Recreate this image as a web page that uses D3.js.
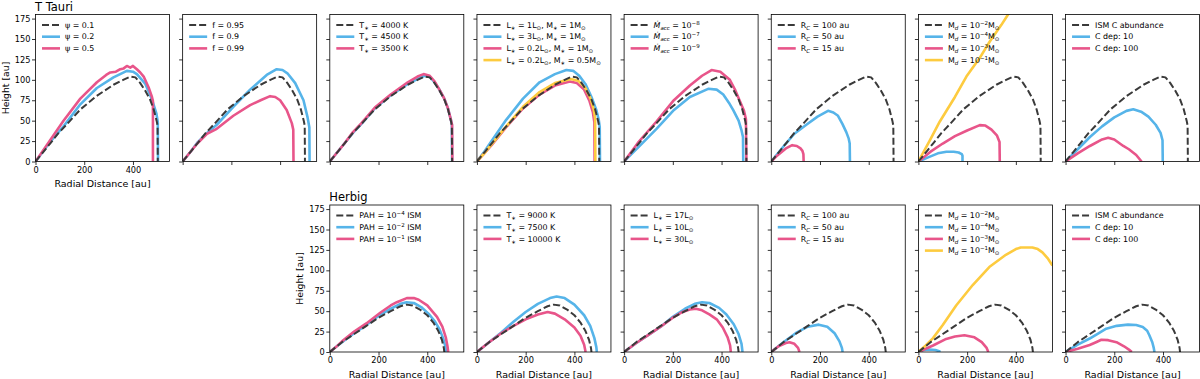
<!DOCTYPE html>
<html>
<head>
<meta charset="utf-8">
<script src="https://cdn.jsdelivr.net/npm/d3@7"></script>
<style>
  body { margin: 0; background: #fff; }
  svg { display: block; font-family: "DejaVu Sans", sans-serif; }
</style>
</head>
<body>
<div id="chart"></div>
<script>
// axis ticks / limits
const xTicks = [0, 200, 400];
const yTicks = [0, 25, 50, 75, 100, 125, 150, 175];
const xMax = 550, yMax = 180;

// ---- T Tauri models, [radius au, height au] ----
const tTauriRef = [[0,0],[30,11],[60,22],[95,35],[130,46],[185,64],[250,80],[320,94],[360,100],[389,104],[410,103],[430,96],[450,87],[470,76],[485,64],[497,50],[501,44],[502,0]];
const psi02 = [[0,0],[30,12],[60,24],[115,43],[184,70],[252,90],[320,103],[375,111],[400,110],[416,107],[451,95],[478,76],[496,59],[502,48],[503,0]];
const psi05 = [[0,0],[30,13],[60,26],[115,50],[184,77],[252,97],[290,106],[307,109],[330,110],[348,113],[362,114],[375,117],[389,115],[400,117],[416,113],[430,109],[444,104],[464,91],[478,79],[482,74],[482,0]];
const f090 = [[0,0],[30,11],[60,23],[100,35],[140,45],[208,67],[277,88],[345,106],[386,113],[410,112],[430,108],[462,96],[496,75],[512,55],[520,42],[521,0]];
const f099 = [[0,0],[30,11],[60,22],[100,34],[140,40],[208,56],[277,69],[320,75],[359,80],[380,79],[400,75],[427,63],[448,47],[454,39],[455,0]];
const tStar4500 = [[0,0],[30,11],[60,22],[95,35],[130,46],[185,65],[250,81],[320,95],[360,101],[389,105],[410,104],[430,97],[450,88],[470,77],[485,65],[497,51],[501,45],[502,0]];
const tStar3500 = [[0,0],[30,11],[60,22],[95,36],[130,47],[185,66],[250,82],[320,97],[360,104],[385,107],[410,105],[430,98],[450,88],[470,77],[485,65],[497,51],[502,45],[503,0]];
const lStar3 = [[0,0],[30,12],[60,25],[120,51],[189,77],[257,97],[320,107],[367,112],[395,111],[420,105],[445,95],[470,79],[490,63],[500,51],[504,42],[505,0]];
const lStar02 = [[0,0],[30,10],[60,20],[120,42],[189,65],[257,82],[320,93],[381,98],[410,96],[440,88],[462,74],[476,60],[482,48],[483,0]];
const lStar02m05 = [[0,0],[30,10],[60,21],[120,43],[189,67],[257,85],[320,96],[385,101],[415,99],[445,90],[466,77],[480,63],[485,52],[486,0]];
const mAcc7 = [[0,0],[30,9],[60,18],[133,40],[201,62],[270,79],[345,89],[380,88],[407,82],[430,72],[448,63],[470,50],[482,38],[488,30],[489,0]];
const mAcc9 = [[0,0],[30,12],[60,24],[133,49],[201,74],[270,93],[320,105],[359,112],[395,110],[434,100],[455,88],[475,74],[492,62],[500,52],[502,0]];
const rc50 = [[0,0],[30,11],[60,22],[95,34],[144,45],[190,55],[233,62],[255,60],[274,56],[292,46],[308,36],[318,28],[322,22],[323,0]];
const rc15 = [[0,0],[20,6],[40,11],[60,16],[86,20],[105,19],[120,16],[128,13],[132,9],[133,0]];
const md4 = [[0,0],[40,5],[80,10],[115,12],[145,12],[165,11],[178,9],[181,7],[181,0]];
const md3 = [[0,0],[50,12],[100,22],[150,31],[200,38],[252,44.5],[275,44],[300,39],[322,32],[333,24],[334,0]];
const md1 = [[0,0],[47,26],[88,49],[150,79],[197,104],[250,126],[293,147],[340,167],[368,180],[400,194]];
const cDep10 = [[0,0],[50,15],[100,30],[150,43],[200,54],[250,62],[278,64],[310,61],[340,55],[370,45],[390,35],[398,26],[399,0]];
const cDep100 = [[0,0],[50,10],[100,19],[150,27],[175,29],[200,27],[237,19],[260,15],[290,8],[312,0]];

// ---- Herbig models ----
const herbigRef = [[0,0],[25,6],[50,12],[100,22],[150,32],[200,42],[250,50],[290,56],[315,58],[340,57],[370,52],[400,45],[425,36],[445,26],[460,15],[468,5],[470,0]];
const pah2 = [[0,0],[25,6],[50,12],[100,23],[150,33],[200,44],[250,53],[290,59],[315,61],[345,60],[375,55],[405,47],[430,38],[450,28],[465,17],[474,7],[477,0]];
const pah1 = [[0,0],[25,6],[50,13],[100,25],[150,35],[207,48],[250,57],[275,61],[316,66],[345,66],[365,64],[400,57],[440,43],[462,31],[476,18],[483,7],[486,0]];
const hT7500 = [[0,0],[50,12],[100,24],[150,37],[200,49],[250,59],[300,66],[327,68],[360,66],[400,58],[440,45],[465,32],[482,17],[490,6],[492,0]];
const hT10000 = [[0,0],[50,12],[100,23],[150,32],[200,40],[250,46],[290,49],[320,47],[360,40],[400,30],[425,20],[440,9],[446,0]];
const hL10 = [[0,0],[50,11],[100,21],[150,31],[200,43],[250,53],[290,59],[320,61],[350,60],[390,54],[420,46],[450,34],[470,22],[482,10],[486,0]];
const hL30 = [[0,0],[50,11],[100,21],[150,31],[200,42],[240,49],[270,52],[295,53],[320,51],[350,46],[380,40],[405,30],[425,18],[435,8],[438,0]];
const hRc50 = [[0,0],[50,12],[100,23],[150,31],[195,33.5],[230,31],[260,23],[280,13],[290,5],[293,0]];
const hRc15 = [[0,0],[30,7],[60,11],[75,12],[95,10],[110,5],[116,0]];
const hMd4 = [[0,0],[20,2.5],[46,3],[70,2.5],[85,1],[90,0]];
const hMd3 = [[0,0],[60,8],[114,16],[150,19],[189,20.5],[230,18],[260,12],[280,5],[287,0]];
const hMd1 = [[0,0],[30,8],[60,17],[100,33],[155,57],[223,82],[291,104],[359,119],[400,126],[420,128],[468,128],[490,126],[509,122],[530,115],[550,106]];
const hDep10 = [[0,0],[50,9],[99,16.5],[130,22],[167,28.5],[210,32],[256,33.5],[290,33],[317,30.5],[335,26],[344,20.5],[356,12],[362,5],[365,0]];
const hDep100 = [[0,0],[50,4],[99,8.5],[125,12],[147,15],[175,14.5],[209,12],[240,7],[260,3],[272,0]];

// ---- legend labels (_{} sub, _i{} italic sub, ^{} super, ~{} italic) ----
const psiLabels = ["ψ = 0.1", "ψ = 0.2", "ψ = 0.5"];
const fLabels = ["f = 0.95", "f = 0.9", "f = 0.99"];
const tStarTTLabels = ["T_{∗} = 4000 K", "T_{∗} = 4500 K", "T_{∗} = 3500 K"];
const lStarTTLabels = ["L_{∗} = 1L_{⊙}, M_{∗} = 1M_{⊙}", "L_{∗} = 3L_{⊙}, M_{∗} = 1M_{⊙}", "L_{∗} = 0.2L_{⊙}, M_{∗} = 1M_{⊙}", "L_{∗} = 0.2L_{⊙}, M_{∗} = 0.5M_{⊙}"];
const mAccLabels = ["~{Ṁ}_i{acc} = 10^{−8}", "~{Ṁ}_i{acc} = 10^{−7}", "~{Ṁ}_i{acc} = 10^{−9}"];
const rcLabels = ["R_i{C} = 100 au", "R_i{C} = 50 au", "R_i{C} = 15 au"];
const mdLabels = ["M_i{d} = 10^{−2}M_{⊙}", "M_i{d} = 10^{−4}M_{⊙}", "M_i{d} = 10^{−3}M_{⊙}", "M_i{d} = 10^{−1}M_{⊙}"];
const cLabels = ["ISM C abundance", "C dep: 10", "C dep: 100"];
const pahLabels = ["PAH = 10^{−4} ISM", "PAH = 10^{−2} ISM", "PAH = 10^{−1} ISM"];
const tStarHLabels = ["T_{∗} = 9000 K", "T_{∗} = 7500 K", "T_{∗} = 10000 K"];
const lStarHLabels = ["L_{∗} = 17L_{⊙}", "L_{∗} = 10L_{⊙}", "L_{∗} = 30L_{⊙}"];

// panels: [row, column, series (ref first), labels]
const panels = [
  [0, 0, [tTauriRef, psi02, psi05], psiLabels],
  [0, 1, [tTauriRef, f090, f099], fLabels],
  [0, 2, [tTauriRef, tStar4500, tStar3500], tStarTTLabels],
  [0, 3, [tTauriRef, lStar3, lStar02, lStar02m05], lStarTTLabels],
  [0, 4, [tTauriRef, mAcc7, mAcc9], mAccLabels],
  [0, 5, [tTauriRef, rc50, rc15], rcLabels],
  [0, 6, [tTauriRef, md4, md3, md1], mdLabels],
  [0, 7, [tTauriRef, cDep10, cDep100], cLabels],
  [1, 2, [herbigRef, pah2, pah1], pahLabels],
  [1, 3, [herbigRef, hT7500, hT10000], tStarHLabels],
  [1, 4, [herbigRef, hL10, hL30], lStarHLabels],
  [1, 5, [herbigRef, hRc50, hRc15], rcLabels],
  [1, 6, [herbigRef, hMd4, hMd3, hMd1], mdLabels],
  [1, 7, [herbigRef, hDep10, hDep100], cLabels]
];

// styles by series index
const colors = ['#3a3a3a', '#56b4e9', '#e8558a', '#fdcb3f'];

const W = 1200, H = 379;
const pw = 134, ph = 147;
const colX = c => 35.5 + c * 147.15;
const rowY = [14.5, 205];

const svg = d3.select('#chart').append('svg')
  .attr('width', W).attr('height', H);

const x = d3.scaleLinear().domain([0, xMax]).range([0, pw]);
const y = d3.scaleLinear().domain([0, yMax]).range([ph, 0]);
const line = d3.line().x(d => x(d[0])).y(d => y(d[1]));

// tiny markup -> tspans
function richText(sel, str) {
  const parts = str.split(/(_i?\{[^}]*\}|\^\{[^}]*\}|~\{[^}]*\})/).filter(s => s);
  parts.forEach(p => {
    let m;
    if ((m = p.match(/^_(i?)\{(.*)\}$/))) {
      sel.append('tspan').attr('font-size', '70%').attr('baseline-shift', -2)
        .attr('font-style', m[1] ? 'italic' : null).text(m[2]);
    } else if ((m = p.match(/^\^\{(.*)\}$/))) {
      sel.append('tspan').attr('font-size', '70%').attr('baseline-shift', 3.5).text(m[1]);
    } else if ((m = p.match(/^~\{(.*)\}$/))) {
      sel.append('tspan').attr('font-style', 'italic').text(m[1]);
    } else {
      sel.append('tspan').text(p);
    }
  });
}

svg.append('text').attr('x', 35).attr('y', 10.5)
  .attr('font-size', 11.5).text('T Tauri');
svg.append('text').attr('x', colX(2) - 0.5).attr('y', 201)
  .attr('font-size', 11.5).text('Herbig');

panels.forEach(([row, col, series, labels], pi) => {
  const g = svg.append('g').attr('transform', `translate(${colX(col)},${rowY[row]})`);

  g.append('clipPath').attr('id', 'clip' + pi)
    .append('rect').attr('width', pw).attr('height', ph);

  const showY = (row === 0 && col === 0) || (row === 1 && col === 2);
  const showX = row === 1 || col === 0;

  const xa = g.append('g').attr('transform', `translate(0,${ph})`)
    .call(d3.axisBottom(x).tickValues(xTicks).tickSize(3.5).tickPadding(2)
      .tickFormat(showX ? d3.format('d') : () => ''));
  const ya = g.append('g')
    .call(d3.axisLeft(y).tickValues(yTicks).tickSize(3.5).tickPadding(1.5)
      .tickFormat(showY ? d3.format('d') : () => ''));
  [xa, ya].forEach(a => {
    a.select('.domain').remove();
    a.selectAll('line').attr('stroke', '#000').attr('stroke-width', 0.8);
    a.selectAll('text').attr('font-size', 8.2).attr('fill', '#000')
      .attr('font-family', '"DejaVu Sans", sans-serif');
  });

  if (showX) {
    g.append('text').attr('x', pw / 2).attr('y', ph + 25.5)
      .attr('text-anchor', 'middle').attr('font-size', 9.5)
      .text('Radial Distance [au]');
  }
  if (showY) {
    g.append('text')
      .attr('transform', `translate(${row === 0 ? -26.5 : -27},${ph / 2}) rotate(-90)`)
      .attr('text-anchor', 'middle').attr('font-size', 9.3)
      .text('Height [au]');
  }

  const lines = g.append('g').attr('clip-path', `url(#clip${pi})`);
  // colored models first, reference dashed on top
  const order = series.map((s, i) => i).slice(1).concat([0]);
  order.forEach(i => {
    lines.append('path').datum(series[i])
      .attr('d', line)
      .attr('fill', 'none')
      .attr('stroke', colors[i])
      .attr('stroke-width', i === 0 ? 2 : 2.6)
      .attr('stroke-dasharray', i === 0 ? '7,3' : null)
      .attr('stroke-linejoin', 'round');
  });

  g.append('rect').attr('width', pw).attr('height', ph)
    .attr('fill', 'none').attr('stroke', '#000').attr('stroke-width', 0.8);

  // legend
  const lg = g.append('g');
  labels.forEach((lab, i) => {
    const ly = 10.5 + i * 11.7;
    lg.append('line').attr('x1', 6.5).attr('x2', 24.5).attr('y1', ly).attr('y2', ly)
      .attr('stroke', colors[i])
      .attr('stroke-width', i === 0 ? 2 : 2.6)
      .attr('stroke-dasharray', i === 0 ? '7,3' : null);
    const t = lg.append('text').attr('x', 29.5).attr('y', ly).attr('dy', '0.35em')
      .attr('font-size', 7.9);
    richText(t, lab);
  });
});
</script>
</body>
</html>
